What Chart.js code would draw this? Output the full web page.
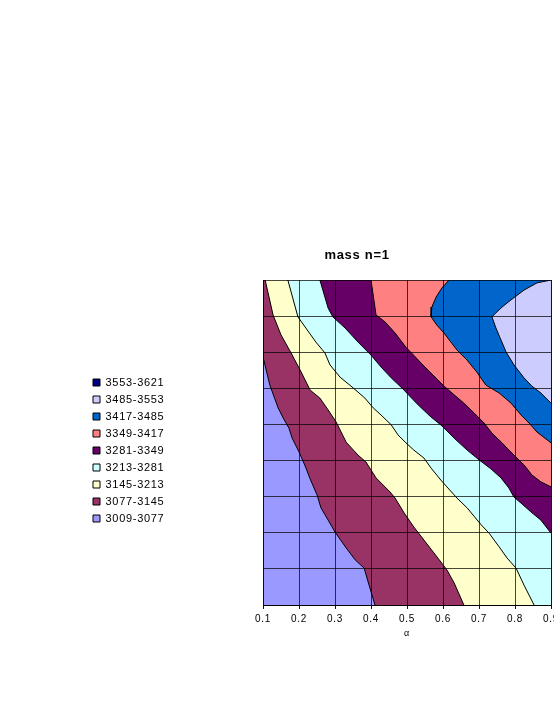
<!DOCTYPE html>
<html>
<head>
<meta charset="utf-8">
<script src="https://cdn.jsdelivr.net/npm/chart.js@4/dist/chart.umd.min.js"></script>
<style>
  html, body { margin: 0; padding: 0; background: #fff; overflow: hidden; }
  canvas { display: block; }
</style>
</head>
<body>
<canvas id="c" width="627" height="717"></canvas>
<script>
// ---- tick labels / axes ----
const alphaTicks  = [0.1, 0.2, 0.3, 0.4, 0.5, 0.6, 0.7, 0.8, 0.9];
const alphaLabels = ['0.1', '0.2', '0.3', '0.4', '0.5', '0.6', '0.7', '0.8', '0.9'];
const rowTicks    = [0, 1, 2, 3, 4, 5, 6, 7, 8, 9];

// ---- legend ranges (top to bottom) ----
const rangeLabels = ['3553-3621', '3485-3553', '3417-3485', '3349-3417', '3281-3349',
                     '3213-3281', '3145-3213', '3077-3145', '3009-3077'];
const rangeColors = ['#000080', '#CCCCFF', '#0066CC', '#FF8080', '#660066',
                     '#CCFFFF', '#FFFFCC', '#993366', '#9999FF'];

// ---- contour lines (alpha, row) ----
const c3077X = [0.100,0.119,0.142,0.156,0.172,0.181,0.200,0.217,0.231,0.250,0.261,0.281,0.300,0.331,0.356,0.381,0.392,0.411];
const c3077Y = [6.87, 6.09, 5.46, 5.18, 4.90, 4.62, 4.24, 3.85, 3.49, 3.05, 2.69, 2.35, 2.02, 1.58, 1.25, 1.02, 0.64, 0.00];

const c3145X = [0.106,0.128,0.150,0.178,0.206,0.231,0.258,0.281,0.303,0.331,0.364,0.386,0.414,0.453,0.467,0.492,0.519,0.547,0.575,0.611,0.631,0.658];
const c3145Y = [9.00, 8.03, 7.48, 6.98, 6.45, 5.95, 5.73, 5.40, 5.07, 4.51, 4.15, 3.96, 3.52, 3.13, 2.96, 2.55, 2.16, 1.80, 1.44, 0.97, 0.61, 0.00];

const c3213X = [0.169,0.197,0.219,0.247,0.272,0.286,0.314,0.347,0.383,0.406,0.428,0.456,0.475,0.497,0.519,0.547,0.567,0.594,0.611,0.639,0.667,0.706,0.728,0.756,0.778,0.803,0.825,0.853];
const c3213Y = [9.00, 7.98, 7.67, 7.28, 6.98, 6.65, 6.31, 6.04, 5.73, 5.46, 5.26, 4.99, 4.71, 4.49, 4.29, 4.07, 3.79, 3.46, 3.27, 2.96, 2.69, 2.22, 1.99, 1.61, 1.30, 1.02, 0.55, 0.00];

const c3281X = [0.258,0.281,0.294,0.328,0.364,0.400,0.428,0.456,0.489,0.528,0.564,0.597,0.631,0.667,0.700,0.733,0.761,0.783,0.797,0.817,0.844,0.872,0.900];
const c3281Y = [9.00, 8.22, 7.98, 7.67, 7.28, 6.92, 6.59, 6.29, 5.98, 5.57, 5.23, 4.96, 4.62, 4.29, 4.02, 3.77, 3.52, 3.24, 2.99, 2.82, 2.58, 2.35, 1.99];

const c3349X = [0.400,0.414,0.439,0.467,0.497,0.547,0.603,0.631,0.658,0.686,0.714,0.736,0.764,0.797,0.825,0.847,0.872,0.900];
const c3349Y = [9.00, 8.03, 7.84, 7.53, 7.14, 6.62, 6.06, 5.82, 5.59, 5.32, 5.04, 4.76, 4.49, 4.15, 3.88, 3.60, 3.41, 3.27];

const c3417X = [0.617,0.597,0.581,0.569,0.567,0.583,0.603,0.622,0.639,0.667,0.694,0.719,0.756,0.789,0.817,0.839,0.861,0.900];
const c3417Y = [9.00, 8.78, 8.53, 8.25, 7.98, 7.75, 7.53, 7.28, 7.06, 6.78, 6.45, 6.09, 5.87, 5.59, 5.26, 5.04, 4.79, 4.49];

const c3485X = [0.900,0.861,0.825,0.789,0.764,0.747,0.736,0.747,0.761,0.775,0.797,0.825,0.847,0.872,0.900];
const c3485Y = [9.00, 8.92, 8.72, 8.45, 8.25, 8.09, 7.98, 7.67, 7.34, 7.01, 6.65, 6.29, 6.06, 5.87, 5.59];

// ---- build region polygons (area above each contour level) ----
const xMin = alphaTicks[0], xMax = alphaTicks[alphaTicks.length - 1];
const yMin = rowTicks[0], yMax = rowTicks[rowTicks.length - 1];

function region(xs, ys, color, order) {
  const pts = [];
  if (ys[0] < yMax) pts.push({x: xMin, y: yMax});
  xs.forEach((x, i) => pts.push({x, y: ys[i]}));
  if (ys[ys.length - 1] <= yMin) pts.push({x: xMax, y: yMin});
  pts.push({x: xMax, y: yMax});
  return { data: pts, showLine: true, fill: 'shape', backgroundColor: color,
           borderWidth: 0, borderColor: 'rgba(0,0,0,0)', pointRadius: 0, tension: 0, order };
}
function contour(xs, ys) {
  return { data: xs.map((x, i) => ({x, y: ys[i]})), showLine: true, fill: false,
           borderColor: '#000', borderWidth: 1, pointRadius: 0, tension: 0, order: -1 };
}

const levels = [
  [c3485X, c3485Y, rangeColors[1]],
  [c3417X, c3417Y, rangeColors[2]],
  [c3349X, c3349Y, rangeColors[3]],
  [c3281X, c3281Y, rangeColors[4]],
  [c3213X, c3213Y, rangeColors[5]],
  [c3145X, c3145Y, rangeColors[6]],
  [c3077X, c3077Y, rangeColors[7]]
];

const datasets = [];
levels.forEach(([xs, ys]) => datasets.push(contour(xs, ys)));
levels.forEach(([xs, ys, col], i) => datasets.push(region(xs, ys, col, i)));
datasets.push({ data: [{x: xMin, y: yMin}, {x: xMax, y: yMin}, {x: xMax, y: yMax}, {x: xMin, y: yMax}],
  showLine: true, fill: 'shape', backgroundColor: rangeColors[8], borderWidth: 0,
  borderColor: 'rgba(0,0,0,0)', pointRadius: 0, order: 7 });

Chart.defaults.font.family = "'Liberation Sans', Arial, sans-serif";
Chart.defaults.color = '#000';

const GRID = 'rgba(0,0,0,0.72)';
const spacing = {
  id: 'spacing',
  afterInit(chart) { chart.ctx.letterSpacing = '0.7px'; },
  beforeUpdate(chart) { chart.ctx.letterSpacing = '0.7px'; },
  beforeDraw(chart) { chart.ctx.letterSpacing = '0.7px'; },
  afterDatasetsDraw(chart) {
    ['x', 'y'].forEach(id => { const s = chart.scales[id]; s.drawGrid(chart.chartArea); s.drawBorder && s.drawBorder(); });
  }
};

new Chart(document.getElementById('c'), {
  type: 'scatter',
  data: { datasets },
  plugins: [spacing],
  options: {
    responsive: false,
    animation: false,
    events: [],
    layout: { padding: { left: 87, top: 184, right: 0, bottom: 0 } },
    plugins: {
      title: { display: true, text: 'mass n=1', color: '#000',
               font: { size: 13, weight: 'bold' }, padding: { top: 63.2, bottom: 17.2 } },
      legend: {
        display: true, position: 'left', align: 'center',
        labels: {
          boxWidth: 7, boxHeight: 7, padding: 6, color: '#000', font: { size: 11 },
          generateLabels: () => rangeLabels.map((t, i) => ({
            text: t, fillStyle: rangeColors[i], strokeStyle: '#000', lineWidth: 1, hidden: false, index: i
          }))
        }
      },
      tooltip: { enabled: false }
    },
    scales: {
      x: {
        type: 'linear', min: xMin, max: xMax,
        afterBuildTicks: s => { s.ticks = alphaTicks.map(v => ({ value: v })); },
        ticks: { callback: (v, i) => alphaLabels[i], font: { size: 10 }, color: '#000',
                 padding: 4, maxRotation: 0, autoSkip: false },
        grid: { color: GRID, lineWidth: 1, tickLength: 4, drawTicks: true },
        border: { color: GRID, width: 1 },
        title: { display: true, text: 'α', font: { size: 9 }, color: '#000', padding: { top: 0, bottom: 77.6 } },
        afterFit: s => { s.height = 112; }
      },
      y: {
        type: 'linear', min: yMin, max: yMax,
        afterBuildTicks: s => { s.ticks = rowTicks.map(v => ({ value: v })); },
        ticks: { display: false },
        grid: { color: GRID, lineWidth: 1, drawTicks: false },
        border: { color: GRID, width: 1 },
        afterFit: s => { const lg = s.chart.legend; const lw = lg && lg.width ? lg.width : 78; s.width = 263 - 87 - lw; }
      },
      y2: {
        type: 'linear', position: 'right', display: true,
        ticks: { display: false }, grid: { display: false }, border: { display: false },
        afterFit: s => { s.width = 76; }
      }
    }
  }
});
</script>
</body>
</html>
